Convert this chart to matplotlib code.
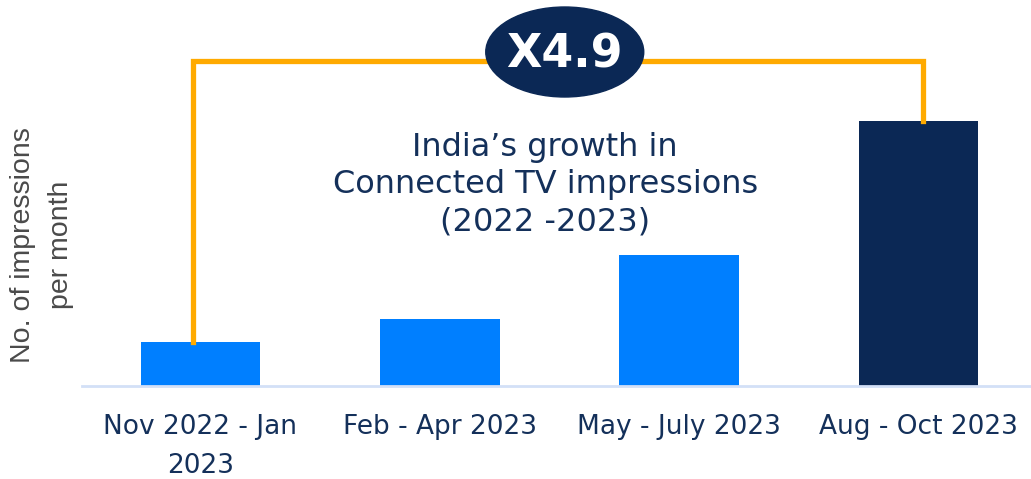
import matplotlib
matplotlib.use("Agg")
import matplotlib.pyplot as plt
from matplotlib.patches import Ellipse

categories = ["Nov 2022 - Jan\n2023", "Feb - Apr 2023", "May - July 2023", "Aug - Oct 2023"]
values = [44, 67, 131, 265]  # relative impressions (bar heights)
bar_colors = ["#007FFF", "#007FFF", "#007FFF", "#0B2855"]
growth_label = "X4.9"
title = "India\u2019s growth in\nConnected TV impressions\n(2022 -2023)"
ylabel = "No. of impressions\nper month"

navy = "#0B2855"
orange = "#FFAA00"

W, H = 1031, 479
fig = plt.figure(figsize=(W / 100, H / 100), dpi=100)
ax = fig.add_axes([82 / W, 93 / H, 1 - 82 / W, 386 / H])

x = list(range(len(categories)))
ax.bar(x, values, width=0.5, color=bar_colors, zorder=2)
ax.set_xlim(-0.495, 3.47)
ax.set_ylim(0, 386)

for s in ["top", "right", "left"]:
    ax.spines[s].set_visible(False)
ax.spines["bottom"].set_color("#D3E0F7")
ax.spines["bottom"].set_linewidth(2)
ax.set_yticks([])
ax.tick_params(axis="x", length=0, pad=20)
ax.set_xticks(x)
ax.set_xticklabels(categories, fontsize=19, color="#14305A",
                   family="DejaVu Sans", linespacing=1.65)

# growth connector
line_y = 325.5
x0 = x[0] - 0.033
x1 = x[-1] + 0.02
ax.plot([x0, x0, x1, x1], [values[0], line_y, line_y, values[-1]],
        color=orange, lw=3.8, solid_joinstyle="miter", zorder=3, clip_on=False)

ell = Ellipse((1.522, 334), width=0.66, height=90, color=navy, zorder=4, clip_on=False)
ax.add_patch(ell)
ax.text(1.522, 331, growth_label, ha="center", va="center", color="white",
        fontsize=33, fontweight="bold", family="DejaVu Sans", zorder=5)

ax.text(1.44, 201, title, ha="center", va="center", color="#14305A",
        fontsize=23, family="DejaVu Sans", linespacing=1.27, zorder=5)

fig.text(42 / W, 1 - 245 / H, ylabel, rotation=90, ha="center", va="center",
         color="#4A4A4A", fontsize=20.5, family="Liberation Sans", linespacing=1.6)

fig.savefig("out.png", dpi=100, facecolor="white")
